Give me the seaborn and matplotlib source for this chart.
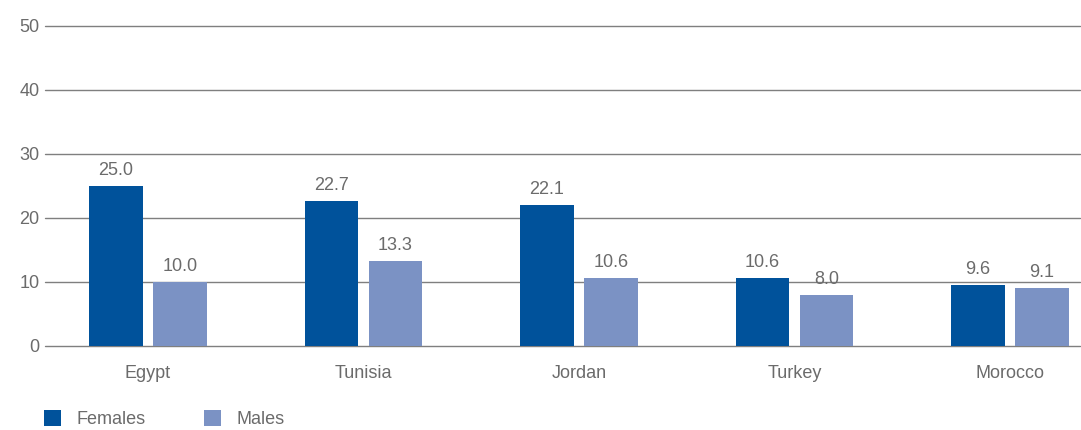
import matplotlib
matplotlib.use("Agg")
import matplotlib.pyplot as plt
import seaborn as sns
import pandas as pd

# Data
countries = ["Egypt", "Tunisia", "Jordan", "Turkey", "Morocco"]
females = [25.0, 22.7, 22.1, 10.6, 9.6]
males = [10.0, 13.3, 10.6, 8.0, 9.1]
series_names = ["Females", "Males"]
y_ticks = [0, 10, 20, 30, 40, 50]

df = pd.DataFrame({
    "country": countries * 2,
    "value": females + males,
    "sex": [series_names[0]] * len(countries) + [series_names[1]] * len(countries),
})

sns.set_theme(style="white")
plt.rcParams["font.family"] = ["Liberation Sans", "DejaVu Sans"]

text_color = "#6b6b6b"
palette = {"Females": "#00529b", "Males": "#7b92c4"}

fig = plt.figure(figsize=(10.81, 4.30), dpi=100)
ax = fig.add_axes([45 / 1081, 84 / 430, 1035 / 1081, 320 / 430])

sns.barplot(data=df, x="country", y="value", hue="sex", order=countries,
            hue_order=series_names, palette=palette, width=0.594, gap=0.17,
            saturation=1, linewidth=0, ax=ax, legend=True)

for cont in ax.containers:
    ax.bar_label(cont, fmt="%.1f", padding=5, fontsize=13, color=text_color)

ax.set_ylim(0, 50)
ax.set_xlim(-0.478, 4.325)
ax.set_yticks(y_ticks)
ax.yaxis.grid(True, color="#7f7f7f", linewidth=1.0)
ax.set_axisbelow(True)
for line in ax.get_ygridlines():
    line.set_clip_on(False)
for s in ax.spines.values():
    s.set_visible(False)
ax.tick_params(axis="y", length=0, pad=4, labelsize=13, labelcolor=text_color)
ax.tick_params(axis="x", length=0, pad=14, labelsize=13, labelcolor=text_color)
ax.set_xlabel("")
ax.set_ylabel("")

handles, labels = ax.get_legend_handles_labels()
ax.get_legend().remove()
fig.legend(handles, labels, loc="center left", bbox_to_anchor=(40 / 1081, 1 - 419 / 430),
           ncol=2, frameon=False, fontsize=13, labelcolor=text_color,
           handlelength=0.95, handleheight=0.95, handletextpad=0.85,
           columnspacing=3.25, borderaxespad=0, borderpad=0.2)

fig.savefig("out.png", dpi=100)
